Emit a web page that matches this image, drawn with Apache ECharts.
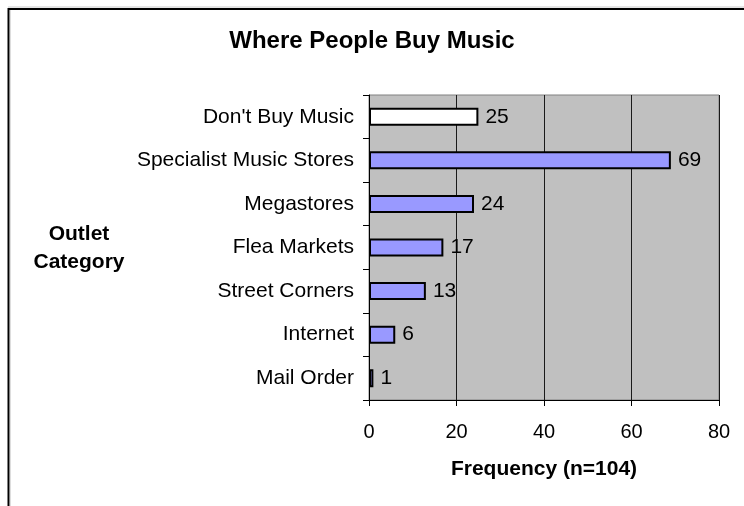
<!DOCTYPE html>
<html>
<head>
<meta charset="utf-8">
<script src="https://cdn.jsdelivr.net/npm/echarts@6/dist/echarts.min.js"></script>
<style>
  html, body { margin: 0; padding: 0; background: #fff; }
  #chart { width: 744px; height: 506px; }
</style>
</head>
<body>
<div id="chart"></div>
<script>
// Outlet categories, top to bottom
const categories = [
  "Don't Buy Music",
  'Specialist Music Stores',
  'Megastores',
  'Flea Markets',
  'Street Corners',
  'Internet',
  'Mail Order'
];
// Number of respondents per outlet
const frequencies = [25, 69, 24, 17, 13, 6, 1];
// Frequency axis ticks
const xTicks = [0, 20, 40, 60, 80];

const FONT = '"Liberation Sans", Arial, sans-serif';

const chart = echarts.init(document.getElementById('chart'), null, { renderer: 'canvas' });

const barData = frequencies.map((v, i) => ({
  value: v,
  itemStyle: { color: i === 0 ? '#FFFFFF' : '#9999FF' }
}));

chart.setOption({
  animation: false,
  backgroundColor: '#FFFFFF',
  title: {
    text: 'Where People Buy Music',
    left: 'center',
    top: 24,
    textStyle: { fontFamily: FONT, fontSize: 24, fontWeight: 'bold', color: '#000' }
  },
  graphic: [
    // chart frame with a faint edge line
    {
      type: 'line',
      shape: { x1: 8, y1: 7, x2: 744, y2: 7 },
      style: { stroke: '#CCCCCC', lineWidth: 1 },
      silent: true
    },
    {
      type: 'line',
      shape: { x1: 10.5, y1: 10, x2: 10.5, y2: 506 },
      style: { stroke: '#DDDDDD', lineWidth: 1 },
      silent: true
    },
    {
      type: 'rect',
      shape: { x: 8.5, y: 9, width: 900, height: 700 },
      style: { fill: 'none', stroke: '#000', lineWidth: 2 },
      silent: true
    },
    {
      type: 'text',
      x: 79,
      y: 220,
      style: {
        text: 'Outlet\nCategory',
        font: 'bold 21px ' + FONT,
        fill: '#000',
        textAlign: 'center',
        textVerticalAlign: 'top',
        lineHeight: 28
      }
    }
  ],
  grid: {
    left: 369,
    right: 25,
    top: 95,
    bottom: 106,
    show: true,
    backgroundColor: '#C0C0C0',
    borderColor: '#808080',
    borderWidth: 1
  },
  xAxis: {
    type: 'value',
    min: xTicks[0],
    max: xTicks[xTicks.length - 1],
    interval: 20,
    name: 'Frequency (n=104)',
    nameLocation: 'middle',
    nameGap: 59,
    nameTextStyle: { fontFamily: FONT, fontSize: 21, fontWeight: 'bold', color: '#000' },
    axisLine: { show: true, lineStyle: { color: '#000', width: 1 } },
    axisTick: { show: true, length: 6, lineStyle: { color: '#000' } },
    axisLabel: { fontFamily: FONT, fontSize: 20, color: '#000', margin: 22 },
    splitLine: { show: true, lineStyle: { color: '#1a1a1a', width: 1 } }
  },
  yAxis: {
    type: 'category',
    data: categories,
    inverse: true,
    axisLine: { show: true, lineStyle: { color: '#000', width: 1 } },
    axisTick: { show: true, length: 6, lineStyle: { color: '#000' } },
    axisLabel: { fontFamily: FONT, fontSize: 21, color: '#000', margin: 15 },
    splitLine: { show: false }
  },
  series: [{
    type: 'bar',
    data: barData,
    barWidth: 18,
    itemStyle: { borderColor: '#000', borderWidth: 2 },
    label: {
      show: true,
      position: 'right',
      distance: 7,
      fontFamily: FONT,
      fontSize: 21,
      color: '#000'
    }
  }]
});
</script>
</body>
</html>
